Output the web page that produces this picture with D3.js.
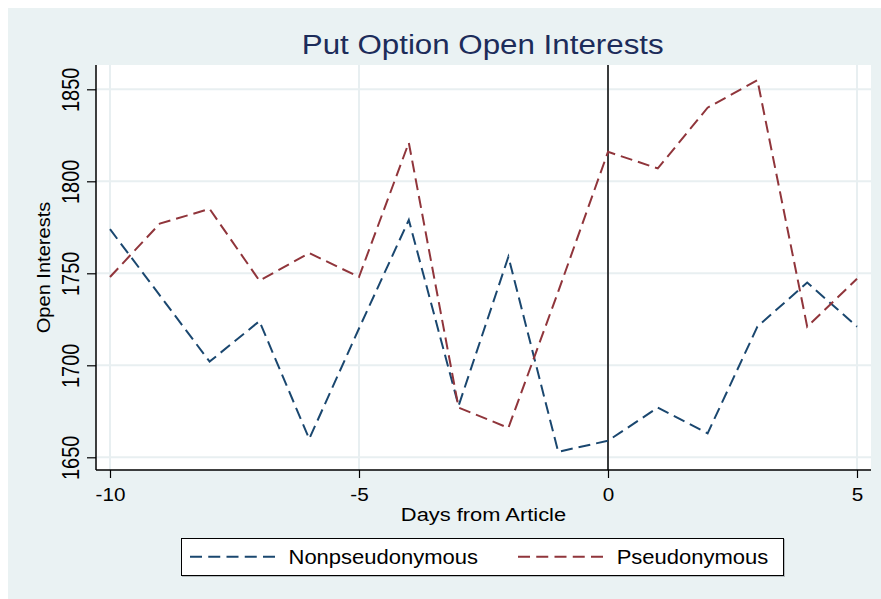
<!DOCTYPE html>
<html lang="en">

<head>
    <meta charset="UTF-8">
    <title>Put Option Open Interests</title>
    <style>
        body {
            margin: 0;
            background: #fff;
        }

        svg {
            display: block;
            font-family: "Liberation Sans", Arial, sans-serif;
        }

        .grid {
            stroke: #e8eff1;
            stroke-width: 2px;
        }

        .series {
            fill: none;
            stroke-width: 2px;
            stroke-dasharray: 12 6;
        }

        .axis line {
            stroke: #000;
            stroke-width: 1.2px;
        }
    </style>
</head>

<body>
    <script src="https://d3js.org/d3.v7.min.js"></script>
    <script>
        // data
        const days = [-10, -9, -8, -7, -6, -5, -4, -3, -2, -1, 0, 1, 2, 3, 4, 5];
        const nonpseudo = [1774, 1738, 1702, 1724, 1660, 1720, 1779, 1678, 1759, 1653, 1659, 1677, 1663, 1721, 1745, 1721];
        const pseudo = [1748, 1777, 1785, 1746, 1761, 1748, 1821, 1677, 1666, 1740, 1816, 1807, 1840, 1855, 1721, 1747];
        const seriesNames = ["Nonpseudonymous", "Pseudonymous"];
        const seriesColors = ["#1a476f", "#90353b"];
        const xTicks = [-10, -5, 0, 5];
        const yTicks = [1650, 1700, 1750, 1800, 1850];

        const width = 881;
        const height = 599;
        const plot = { left: 96, right: 871, top: 65, bottom: 470 };

        const x = d3.scaleLinear().domain([-10, 5]).range([110, 857]);
        const y = d3.scaleLinear().domain([1650, 1850]).range([457.3, 89.3]);

        const svg = d3.select("body").append("svg")
            .attr("width", width)
            .attr("height", height);

        // graph region
        svg.append("rect")
            .attr("x", 8).attr("y", 8)
            .attr("width", width - 8).attr("height", height - 8)
            .attr("fill", "#eaf2f3");

        svg.append("rect")
            .attr("x", plot.left).attr("y", plot.top)
            .attr("width", plot.right - plot.left)
            .attr("height", plot.bottom - plot.top)
            .attr("fill", "#fff");

        // grid
        svg.selectAll(".hgrid")
            .data(yTicks)
            .join("line")
            .attr("class", "grid")
            .attr("x1", plot.left).attr("x2", plot.right)
            .attr("y1", d => y(d)).attr("y2", d => y(d));

        svg.selectAll(".vgrid")
            .data(xTicks)
            .join("line")
            .attr("class", "grid")
            .attr("x1", d => x(d)).attr("x2", d => x(d))
            .attr("y1", plot.top).attr("y2", plot.bottom);

        // article day marker
        svg.append("line")
            .attr("x1", x(0)).attr("x2", x(0))
            .attr("y1", plot.top).attr("y2", plot.bottom)
            .attr("stroke", "#000")
            .attr("stroke-width", 1.5);

        // lines
        const series = [nonpseudo, pseudo];
        const line = d3.line()
            .x((d, i) => x(days[i]))
            .y(d => y(d));

        svg.selectAll(".series")
            .data(series)
            .join("path")
            .attr("class", "series")
            .attr("stroke", (d, i) => seriesColors[i])
            .attr("d", line);

        // y axis
        const yAxis = svg.append("g")
            .attr("class", "axis")
            .attr("transform", `translate(${plot.left},0)`)
            .call(d3.axisLeft(y).tickValues(yTicks).tickSize(9).tickFormat(d => String(d)));
        yAxis.select(".domain").remove();
        yAxis.selectAll("text")
            .attr("x", 0).attr("y", 0).attr("dy", null)
            .attr("text-anchor", "middle")
            .attr("fill", "#000")
            .style("font-size", "20px")
            .attr("transform", "translate(-17,0) rotate(-90) scale(1,1.2)");

        svg.append("line")
            .attr("x1", plot.left).attr("x2", plot.left)
            .attr("y1", plot.top).attr("y2", plot.bottom)
            .attr("stroke", "#000").attr("stroke-width", 1.5);

        // x axis (plain hyphen for negatives, as in the original)
        const xAxis = svg.append("g")
            .attr("class", "axis")
            .attr("transform", `translate(0,${plot.bottom})`)
            .call(d3.axisBottom(x).tickValues(xTicks).tickSize(8).tickFormat(d => String(d)));
        xAxis.select(".domain").remove();
        xAxis.selectAll("text")
            .attr("x", 0)
            .attr("y", 31).attr("dy", null)
            .attr("fill", "#000")
            .style("font-size", "17.7px")
            .attr("transform", "scale(1.17,1)");

        svg.append("line")
            .attr("x1", plot.left).attr("x2", plot.right)
            .attr("y1", plot.bottom).attr("y2", plot.bottom)
            .attr("stroke", "#000").attr("stroke-width", 1.5);

        // titles
        svg.append("text")
            .attr("transform", "translate(482.7,54) scale(1.16,1)")
            .attr("text-anchor", "middle")
            .attr("fill", "#1c2c5a")
            .style("font-size", "27px")
            .text("Put Option Open Interests");

        svg.append("text")
            .attr("transform", "translate(483.5,521) scale(1.17,1)")
            .attr("text-anchor", "middle")
            .style("font-size", "18.7px")
            .text("Days from Article");

        svg.append("text")
            .attr("transform", "translate(49.6,267.5) rotate(-90) scale(1.115,1)")
            .attr("text-anchor", "middle")
            .style("font-size", "18px")
            .text("Open Interests");

        // legend
        const legend = svg.append("g");
        legend.append("rect")
            .attr("x", 182).attr("y", 539)
            .attr("width", 603).attr("height", 38)
            .attr("fill", "#b5bcbf");
        legend.append("rect")
            .attr("x", 181.5).attr("y", 538.5)
            .attr("width", 602).attr("height", 37)
            .attr("fill", "#fff")
            .attr("stroke", "#000")
            .attr("stroke-width", 1);

        const legendX = [190, 518];
        const labelX = [288.5, 616.7];
        const item = legend.selectAll(".item")
            .data(seriesNames)
            .join("g");
        item.append("line")
            .attr("x1", (d, i) => legendX[i]).attr("x2", (d, i) => legendX[i] + 85)
            .attr("y1", 556.7).attr("y2", 556.7)
            .attr("stroke", (d, i) => seriesColors[i])
            .attr("stroke-width", 2)
            .attr("stroke-dasharray", "12 6.25");
        item.append("text")
            .attr("transform", (d, i) => `translate(${labelX[i]},564) scale(1.1,1)`)
            .style("font-size", "20px")
            .text(d => d);
    </script>
</body>

</html>
